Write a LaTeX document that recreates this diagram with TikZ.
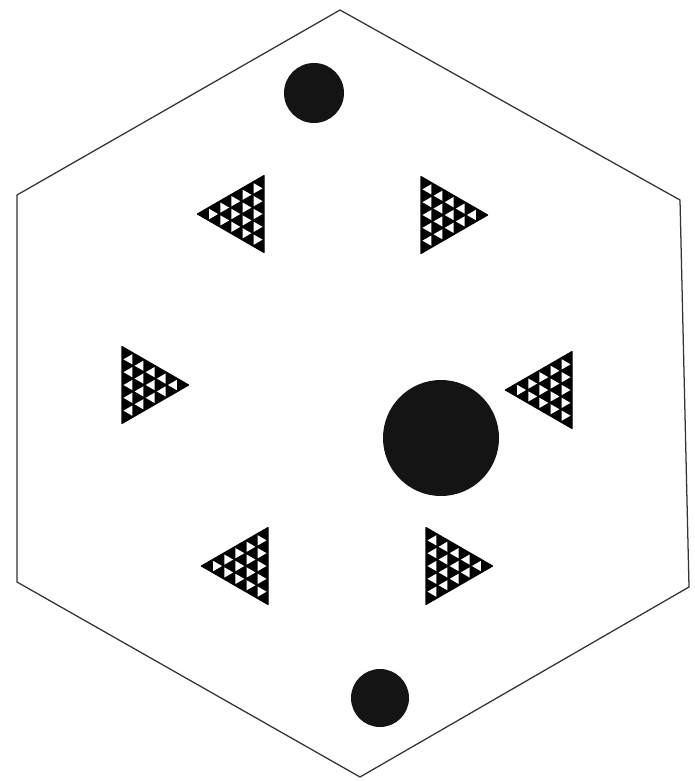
\documentclass[tikz,border=0pt]{standalone}
\usepackage{tikz}
\usetikzlibrary{positioning}

\begin{document}
\begin{tikzpicture}[
  x=0.05cm, y=-0.05cm,
  hexline/.style ={draw=black!80, line width=1.8pt},
  dot/.style     ={circle, fill=black!92, inner sep=0pt},
  cell/.style    ={fill=white},
  tri/.pic={
    % big triangle pointing right, vertical side 77, tip at 66.7
    \filldraw[black, line width=1.5pt, line join=round] (0,-38.5) -- (0,38.5) -- (66.7,0) -- cycle;
    % white holes: the inverted cells of a 6-step grid
    \foreach \i in {0,...,4}{
      \pgfmathtruncatemacro{\last}{4-\i}
      \foreach \j in {0,...,\last}{
        \fill[cell, shift={({(\i+1)*11.11-3.70},{-38.5+\i*6.42+(\j+1)*12.83})}, scale=0.8]
          (3.70,-6.42) -- (3.70,6.42) -- (-7.41,0) -- cycle;
      }
    }
  }
]
\useasboundingbox (0,0) rectangle (695,782);

% --- hexagon outline ---
\draw[hexline] (340,10) -- (680,200) -- (689,587) -- (360,777)
               -- (17,582) -- (17,195) -- cycle;

% --- black dots ---
\node[dot, minimum size=3cm]   (topdot) at (314,93)  {};
\node[dot, minimum size=5.8cm] (bigdot) at (441,438) {};
\node[dot, minimum size=2.9cm] (botdot) at (380,698) {};

% --- patterned triangles ---
\pic[xscale=-1] (tul) at (264,214) {tri};
\pic            (tur) at (421,215) {tri};
\pic            (tml) at (122,385) {tri};
\pic[xscale=-1] (tmr) at (572,390) {tri};
\pic[xscale=-1] (tll) at (268,566) {tri};
\pic            (tlr) at (426,566) {tri};

\end{tikzpicture}
\end{document}
